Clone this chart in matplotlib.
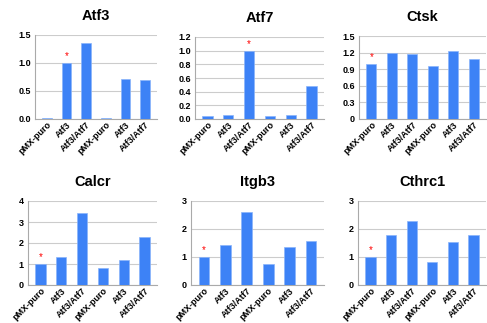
import matplotlib
matplotlib.use("Agg")
import matplotlib.pyplot as plt
from matplotlib.ticker import FormatStrFormatter

plt.rcParams['font.family'] = ['Liberation Sans', 'DejaVu Sans']

groups = ["pMX-puro", "Atf3", "Atf3/Atf7", "pMX-puro", "Atf3", "Atf3/Atf7"]

genes = ["Atf3", "Atf7", "Ctsk", "Calcr", "Itgb3", "Cthrc1"]
atf3_vals = [0.01, 1.0, 1.35, 0.01, 0.71, 0.70]
atf7_vals = [0.05, 0.06, 1.0, 0.05, 0.06, 0.48]
ctsk_vals = [1.0, 1.19, 1.18, 0.96, 1.22, 1.08]
calcr_vals = [1.0, 1.35, 3.45, 0.80, 1.20, 2.30]
itgb3_vals = [1.0, 1.43, 2.60, 0.75, 1.35, 1.57]
cthrc1_vals = [1.0, 1.80, 2.28, 0.83, 1.52, 1.80]

# which bar gets the red asterisk
star_idx = [1, 2, 0, 0, 0, 0]

y_ticks = [
    [0.0, 0.5, 1.0, 1.5],
    [0.0, 0.2, 0.4, 0.6, 0.8, 1.0, 1.2],
    [0, 0.3, 0.6, 0.9, 1.2, 1.5],
    [0, 1, 2, 3, 4],
    [0, 1, 2, 3],
    [0, 1, 2, 3],
]
y_fmt = ["%.1f", "%.1f", None, "%d", "%d", "%d"]

all_vals = [atf3_vals, atf7_vals, ctsk_vals, calcr_vals, itgb3_vals, cthrc1_vals]

W, H = 487, 323
fig = plt.figure(figsize=(W / 100, H / 100), dpi=100)

# axes boxes in pixels: left, top, right, bottom
boxes = [
    (35, 35, 157, 119),
    (195, 37, 324, 119),
    (359, 36, 486, 119),
    (28, 201, 157, 285),
    (191, 201, 324, 285),
    (358, 201, 486, 285),
]

bar_color = "#3d82f6"

for i in range(6):
    l, t, r, b = boxes[i]
    ax = fig.add_axes([l / W, 1 - b / H, (r - l) / W, (b - t) / H])
    vals = all_vals[i]
    x = list(range(len(groups)))
    ax.bar(x, vals, width=0.5, color=bar_color, edgecolor="#8ab4fa", linewidth=0.5, zorder=3)
    ticks = y_ticks[i]
    ax.set_ylim(0, ticks[-1])
    ax.set_yticks(ticks)
    if y_fmt[i]:
        ax.yaxis.set_major_formatter(FormatStrFormatter(y_fmt[i]))
    else:
        ax.set_yticklabels(["0" if v == 0 else str(v) for v in ticks])
    ax.set_xlim(-0.6, 5.6)
    ax.set_xticks(x)
    ax.set_xticklabels(groups, rotation=45, ha="right", rotation_mode="anchor")
    ax.tick_params(axis="x", length=0, labelsize=6.5, pad=1)
    ax.tick_params(axis="y", length=0, labelsize=6.5, pad=3)
    for lab in ax.get_xticklabels() + ax.get_yticklabels():
        lab.set_fontweight("bold")
    ax.grid(axis="y", color="#cccccc", linewidth=0.8, zorder=0)
    for s in ["top", "right"]:
        ax.spines[s].set_visible(False)
    ax.spines["left"].set_color("#aaaaaa")
    ax.spines["bottom"].set_color("#aaaaaa")
    ax.spines["left"].set_linewidth(0.8)
    ax.spines["bottom"].set_linewidth(0.8)
    si = star_idx[i]
    ax.text(si, vals[si] + ticks[-1] * 0.08, "*", color="red", ha="center", va="center", fontsize=7)
    ax.set_title(genes[i], fontsize=10.5, fontweight="bold", pad=11)

fig.savefig("out.png", dpi=100)
